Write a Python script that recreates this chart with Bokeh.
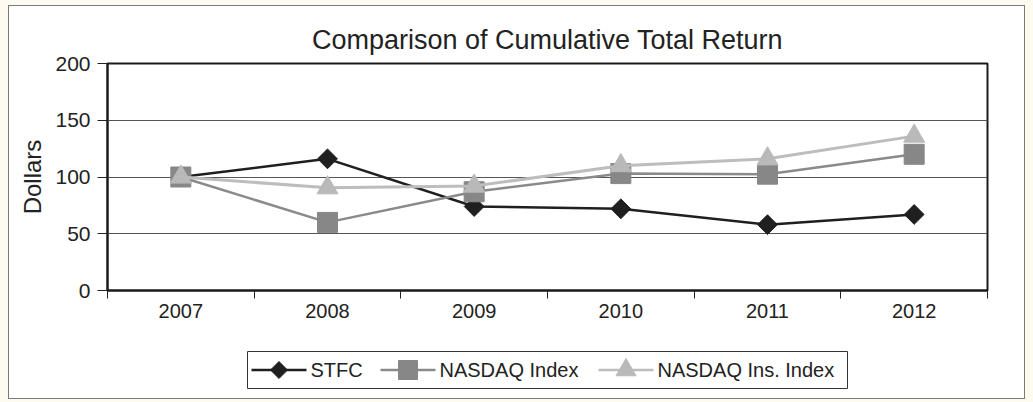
import math
from bokeh.plotting import figure
from bokeh.layouts import column
from bokeh.models import FixedTicker, Range1d, ColumnDataSource
from bokeh.core.properties import value
from bokeh.embed import file_html
from bokeh.resources import INLINE

years = ["2007", "2008", "2009", "2010", "2011", "2012"]
stfc = [100, 116, 74, 72, 58, 67]
nasdaq = [100, 60, 87, 103, 102.5, 120]
nasdaq_ins = [100, 90.5, 92, 110, 116, 136]
y_ticks = [0, 50, 100, 150, 200]
series_names = ["STFC", "NASDAQ Index", "NASDAQ Ins. Index"]

FONT = "Liberation Sans"
xpos = [i + 0.5 for i in range(len(years))]

STYLES = [
    dict(line_color="#1f1f1f", line_width=2.5, marker="square", angle=math.pi / 4,
         size=14, fill="#1f1f1f"),
    dict(line_color="#8a8a8a", line_width=2.5, marker="square", angle=0, size=20,
         fill="#878787"),
    dict(line_color="#bdbdbd", line_width=3, marker="triangle", angle=0, size=21,
         fill="#b9b9b9"),
]

p = figure(width=1015, height=334, output_backend="svg", toolbar_location=None,
           x_range=Range1d(0, len(years)), y_range=Range1d(0, 200),
           min_border_left=98, min_border_top=57, min_border_right=37, min_border_bottom=50,
           title="Comparison of Cumulative Total Return")
p.background_fill_color = "white"
p.border_fill_color = "white"
p.outline_line_color = "#1a1a1a"
p.outline_line_width = 2

p.title.align = "center"
p.title.text_font = FONT
p.title.text_font_size = "27px"
p.title.text_font_style = "normal"
p.title.text_color = "#222222"
p.title.standoff = 17

# x axis
p.xaxis.ticker = FixedTicker(ticks=xpos, minor_ticks=list(range(len(years) + 1)))
p.xaxis.major_label_overrides = {x: y for x, y in zip(xpos, years)}
p.xaxis.major_tick_line_color = None
p.xaxis.major_tick_out = 8
p.xaxis.major_tick_in = 0
p.xaxis.minor_tick_out = 8
p.xaxis.minor_tick_in = 0
p.xaxis.minor_tick_line_color = "#222222"
p.xaxis.minor_tick_line_width = 1
p.xaxis.axis_line_color = "#1a1a1a"
p.xaxis.axis_line_width = 2
p.xaxis.major_label_text_font = FONT
p.xaxis.major_label_text_font_size = "20px"
p.xaxis.major_label_text_color = "#222222"
p.xaxis.major_label_standoff = 5

# y axis
p.yaxis.ticker = FixedTicker(ticks=y_ticks, minor_ticks=[])
p.yaxis.major_tick_out = 10
p.yaxis.major_tick_in = 0
p.yaxis.major_tick_line_color = "#222222"
p.yaxis.axis_line_color = "#1a1a1a"
p.yaxis.axis_line_width = 2
p.yaxis.major_label_text_font = FONT
p.yaxis.major_label_text_font_size = "21px"
p.yaxis.major_label_text_color = "#222222"
p.yaxis.major_label_standoff = 7
p.yaxis.axis_label = "Dollars"
p.yaxis.axis_label_text_font = FONT
p.yaxis.axis_label_text_font_size = "24px"
p.yaxis.axis_label_text_font_style = "normal"
p.yaxis.axis_label_text_color = "#222222"
p.yaxis.axis_label_standoff = 6

p.xgrid.grid_line_color = None
p.ygrid.ticker = FixedTicker(ticks=y_ticks)
p.ygrid.grid_line_color = "#555555"
p.ygrid.grid_line_width = 1

src = ColumnDataSource(dict(x=xpos, s0=stfc, s1=nasdaq, s2=nasdaq_ins))
for i, st in enumerate(STYLES):
    p.line("x", f"s{i}", source=src, line_color=st["line_color"], line_width=st["line_width"])
    p.scatter("x", f"s{i}", source=src, marker=st["marker"], angle=st["angle"],
              size=st["size"], fill_color=st["fill"], line_color=st["fill"])

# ---- legend strip below the chart (pixel-scaled ranges, frame aligned with chart) ----
STRIP_W, STRIP_H = 880, 58
p2 = figure(width=1015, height=STRIP_H, output_backend="svg", toolbar_location=None,
            x_range=Range1d(0, STRIP_W), y_range=Range1d(0, STRIP_H),
            min_border=0, min_border_left=0, min_border_right=0,
            min_border_top=0, min_border_bottom=0)
p2.axis.visible = False
p2.grid.visible = False
p2.outline_line_color = None
p2.background_fill_color = "white"
p2.border_fill_color = "white"

BOX_LEFT, BOX_BOTTOM, BOX_H, PAD = 140, 10, 37, 4
GLYPH_W, STANDOFF, SPACING = 55, 4, 16
label_widths = [54, 143, 180]   # approximate rendered widths of the labels at 20px
cy = BOX_BOTTOM + BOX_H / 2

x = BOX_LEFT + PAD
entries = []
for name, st, lw in zip(series_names, STYLES, label_widths):
    entries.append((x, name, st))
    x += GLYPH_W + STANDOFF + lw + SPACING
box_right = x - SPACING + 10

p2.quad(left=[BOX_LEFT], right=[box_right], bottom=[BOX_BOTTOM], top=[BOX_BOTTOM + BOX_H],
        fill_color="white", line_color="#333333", line_width=1)

for x0, name, st in entries:
    p2.segment(x0=[x0], y0=[cy], x1=[x0 + GLYPH_W], y1=[cy],
               line_color=st["line_color"], line_width=2.5)
    msize = st["size"] - 2 if st["marker"] == "square" and st["angle"] else st["size"] - 1
    p2.scatter(x=[x0 + GLYPH_W / 2], y=[cy], marker=st["marker"], angle=st["angle"],
               size=msize, fill_color=st["fill"], line_color=st["fill"])
    p2.text(x=[x0 + GLYPH_W + STANDOFF], y=[cy], text=[name],
            text_font=value(FONT), text_font_size="20px", text_color="#222222",
            text_baseline="middle", text_align="left")

layout = column(p, p2, spacing=0, styles={"border": "1px solid #7a7a7a", "background": "white"})

html = file_html(layout, INLINE)
html = html.replace(
    "</head>",
    "<style>html, body { background: #fdfaef !important; } "
    "body { padding: 5px 8px !important; }</style></head>", 1)
open("out.html", "w").write(html)
